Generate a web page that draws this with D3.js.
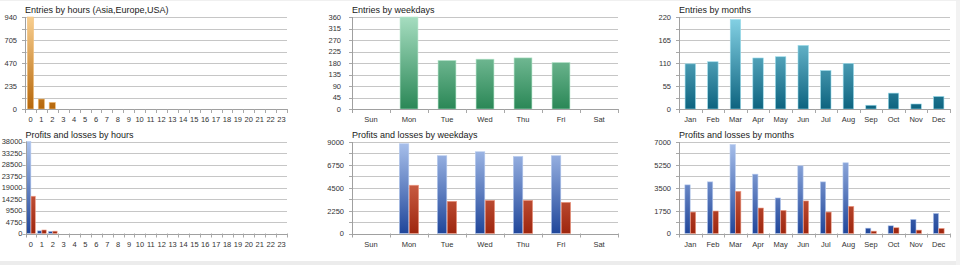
<!DOCTYPE html>
<html>
<head>
<meta charset="utf-8">
<script src="https://cdn.jsdelivr.net/npm/d3@7"></script>
<style>
  html, body { margin: 0; padding: 0; background: #ffffff; }
  svg { display: block; }
  text { font-family: "Liberation Sans", Arial, sans-serif; }
</style>
</head>
<body>
<svg id="chart" width="960" height="265"></svg>
<script>
// ---------- DATA ----------
const hours = ["0","1","2","3","4","5","6","7","8","9","10","11","12","13","14","15","16","17","18","19","20","21","22","23"];
const weekdays = ["Sun","Mon","Tue","Wed","Thu","Fri","Sat"];
const months = ["Jan","Feb","Mar","Apr","May","Jun","Jul","Aug","Sep","Oct","Nov","Dec"];

const entriesHours = [940,102,68,0,0,0,0,0,0,0,0,0,0,0,0,0,0,0,0,0,0,0,0,0];
const entriesWeekdays = [0,360,190,195,200,182,0];
const entriesMonths = [108,113,214,122,125,152,92,109,9,38,12,30];

const profitHours = [38000,1100,900,0,0,0,0,0,0,0,0,0,0,0,0,0,0,0,0,0,0,0,0,0];
const lossHours   = [15400,1450,960,0,0,0,0,0,0,0,0,0,0,0,0,0,0,0,0,0,0,0,0,0];
const profitWeekdays = [0,8830,7650,8040,7580,7650,0];
const lossWeekdays   = [0,4750,3170,3260,3260,3070,0];
const profitMonths = [3720,3950,6800,4540,2720,5180,3950,5410,410,590,1080,1540];
const lossMonths   = [1640,1720,3230,1950,1770,2490,1640,2080,180,440,260,390];

const yTicksEntriesHours = [0,235,470,705,940];
const yTicksEntriesWeekdays = [0,45,90,135,180,225,270,315,360];
const yTicksEntriesMonths = [0,55,110,165,220];
const yTicksProfitHours = [0,4750,9500,14250,19000,23750,28500,33250,38000];
const yTicksProfitWeekdays = [0,2250,4500,6750,9000];
const yTicksProfitMonths = [0,1750,3500,5250,7000];

const titles = [
  "Entries by hours (Asia,Europe,USA)",
  "Entries by weekdays",
  "Entries by months",
  "Profits and losses by hours",
  "Profits and losses by weekdays",
  "Profits and losses by months"
];

// ---------- STYLE ----------
const palette = {
  orange: { top: "#f8cf90", bottom: "#b5660a", stroke: "#f3c27e" },
  green:  { top: "#a6ddc0", bottom: "#2a8756", stroke: "#b6e5cb" },
  teal:   { top: "#86d3e6", bottom: "#0d637f", stroke: "#9bdcec" },
  blue:   { top: "#a9c1ec", bottom: "#20469a", stroke: "#b7cbef" },
  red:    { top: "#ec8a70", bottom: "#9e260e", stroke: "#f0a08a" }
};

const panels = [
  { title: titles[0], cats: hours, series: [entriesHours], colors: ["orange"], yTicks: yTicksEntriesHours,
    x0: 25, x1: 287, y0: 17, y1: 109, barRatio: 0.62, labelOff: 8 },
  { title: titles[1], cats: weekdays, series: [entriesWeekdays], colors: ["green"], yTicks: yTicksEntriesWeekdays,
    x0: 352, x1: 618, y0: 17, y1: 109, barRatio: 0.51, labelOff: 11 },
  { title: titles[2], cats: months, series: [entriesMonths], colors: ["teal"], yTicks: yTicksEntriesMonths,
    x0: 679, x1: 950, y0: 17, y1: 109, barRatio: 0.5, labelOff: 8 },
  { title: titles[3], cats: hours, series: [profitHours, lossHours], colors: ["blue","red"], yTicks: yTicksProfitHours,
    x0: 25.5, x1: 287, y0: 141.5, y1: 233.5, barRatio: 0.84, labelOff: 3 },
  { title: titles[4], cats: weekdays, series: [profitWeekdays, lossWeekdays], colors: ["blue","red"], yTicks: yTicksProfitWeekdays,
    x0: 352, x1: 618, y0: 142, y1: 233.5, barRatio: 0.53, labelOff: 8 },
  { title: titles[5], cats: months, series: [profitMonths, lossMonths], colors: ["blue","red"], yTicks: yTicksProfitMonths,
    x0: 679, x1: 950, y0: 142, y1: 233.5, barRatio: 0.5, labelOff: 8 }
];

const svg = d3.select("#chart");

// background strips
svg.append("rect").attr("x", 0).attr("y", 0).attr("width", 960).attr("height", 265).attr("fill", "#ffffff");
svg.append("rect").attr("x", 0).attr("y", 261).attr("width", 960).attr("height", 4).attr("fill", "#ececec");
svg.append("rect").attr("x", 956).attr("y", 0).attr("width", 4).attr("height", 265).attr("fill", "#f2f2f2");
svg.append("rect").attr("x", 0).attr("y", 0).attr("width", 960).attr("height", 1).attr("fill", "#f0f0f0");

const defs = svg.append("defs");

panels.forEach((p, pi) => {
  const g = svg.append("g");
  const yMax = d3.max(p.yTicks);
  const y = d3.scaleLinear().domain([0, yMax]).range([p.y1, p.y0]);
  const x = d3.scaleBand().domain(p.cats).range([p.x0, p.x1]).padding(0);

  // gradients (user space over plot height)
  const gradIds = p.colors.map((c, ci) => {
    const id = `grad-${pi}-${ci}`;
    const lg = defs.append("linearGradient").attr("id", id)
      .attr("gradientUnits", "userSpaceOnUse")
      .attr("x1", 0).attr("x2", 0).attr("y1", p.y0).attr("y2", p.y1);
    lg.append("stop").attr("offset", "0%").attr("stop-color", palette[c].top);
    lg.append("stop").attr("offset", "100%").attr("stop-color", palette[c].bottom);
    return id;
  });

  // gridlines (major + minor)
  const grid = d3.range(0, 9).map(i => yMax * i / 8);
  g.append("g").selectAll("line").data(grid.filter(v => v > 0)).join("line")
    .attr("x1", p.x0).attr("x2", p.x1)
    .attr("y1", d => Math.round(y(d)) + 0.5).attr("y2", d => Math.round(y(d)) + 0.5)
    .attr("stroke", "#c6c6c6").attr("stroke-width", 1);

  // y tick marks on left
  g.append("g").selectAll("line").data(grid).join("line")
    .attr("x1", p.x0 - 3).attr("x2", p.x0)
    .attr("y1", d => Math.round(y(d)) + 0.5).attr("y2", d => Math.round(y(d)) + 0.5)
    .attr("stroke", "#a8a8a8");

  // y axis labels via d3 axis
  const yAxis = d3.axisLeft(y).tickValues(p.yTicks).tickSize(0).tickPadding(p.labelOff).tickFormat(d3.format("d"));
  const ya = g.append("g").attr("transform", `translate(${p.x0},0)`).call(yAxis);
  ya.select(".domain").remove();
  ya.selectAll("text").attr("font-size", 7.5).attr("fill", "#333").attr("font-family", "Liberation Sans, Arial, sans-serif");

  // bars
  const ns = p.series.length;
  const groupW = x.bandwidth() * p.barRatio;
  const inner = d3.scaleBand().domain(d3.range(ns)).range([0, groupW]).padding(0.04);
  p.series.forEach((vals, si) => {
    g.append("g").selectAll("rect").data(vals.map((v, i) => ({ v, c: p.cats[i] })).filter(d => d.v > 0))
      .join("rect")
      .attr("x", d => x(d.c) + (x.bandwidth() - groupW) / 2 + inner(si))
      .attr("width", inner.bandwidth())
      .attr("y", d => y(d.v))
      .attr("height", d => p.y1 - y(d.v))
      .attr("fill", `url(#${gradIds[si]})`)
      .attr("stroke", palette[p.colors[si]].stroke)
      .attr("stroke-width", 0.6);
  });

  // x axis line
  g.append("line").attr("x1", p.x0).attr("x2", p.x1)
    .attr("y1", Math.round(p.y1) + 0.5).attr("y2", Math.round(p.y1) + 0.5)
    .attr("stroke", "#a0a0a0");
  // y axis line
  g.append("line").attr("x1", Math.round(p.x0) + 0.5).attr("x2", Math.round(p.x0) + 0.5)
    .attr("y1", p.y0).attr("y2", p.y1 + 4)
    .attr("stroke", "#a0a0a0");

  // x tick marks at band boundaries
  g.append("g").selectAll("line").data(p.cats.slice(1).concat(["__end"])).join("line")
    .attr("x1", d => Math.round(d === "__end" ? p.x1 : x(d)) + 0.5)
    .attr("x2", d => Math.round(d === "__end" ? p.x1 : x(d)) + 0.5)
    .attr("y1", p.y1).attr("y2", p.y1 + 4)
    .attr("stroke", "#a8a8a8");

  // x labels
  const xAxis = d3.axisBottom(x).tickSize(0).tickPadding(8);
  const xa = g.append("g").attr("transform", `translate(0,${p.y1})`).call(xAxis);
  xa.select(".domain").remove();
  xa.selectAll("text").attr("font-size", 7.5).attr("fill", "#333").attr("font-family", "Liberation Sans, Arial, sans-serif");

  // title
  g.append("text").attr("x", p.x0).attr("y", p.y0 - 4)
    .attr("font-size", 9).attr("fill", "#1a1a1a").text(p.title);
});
</script>
</body>
</html>
